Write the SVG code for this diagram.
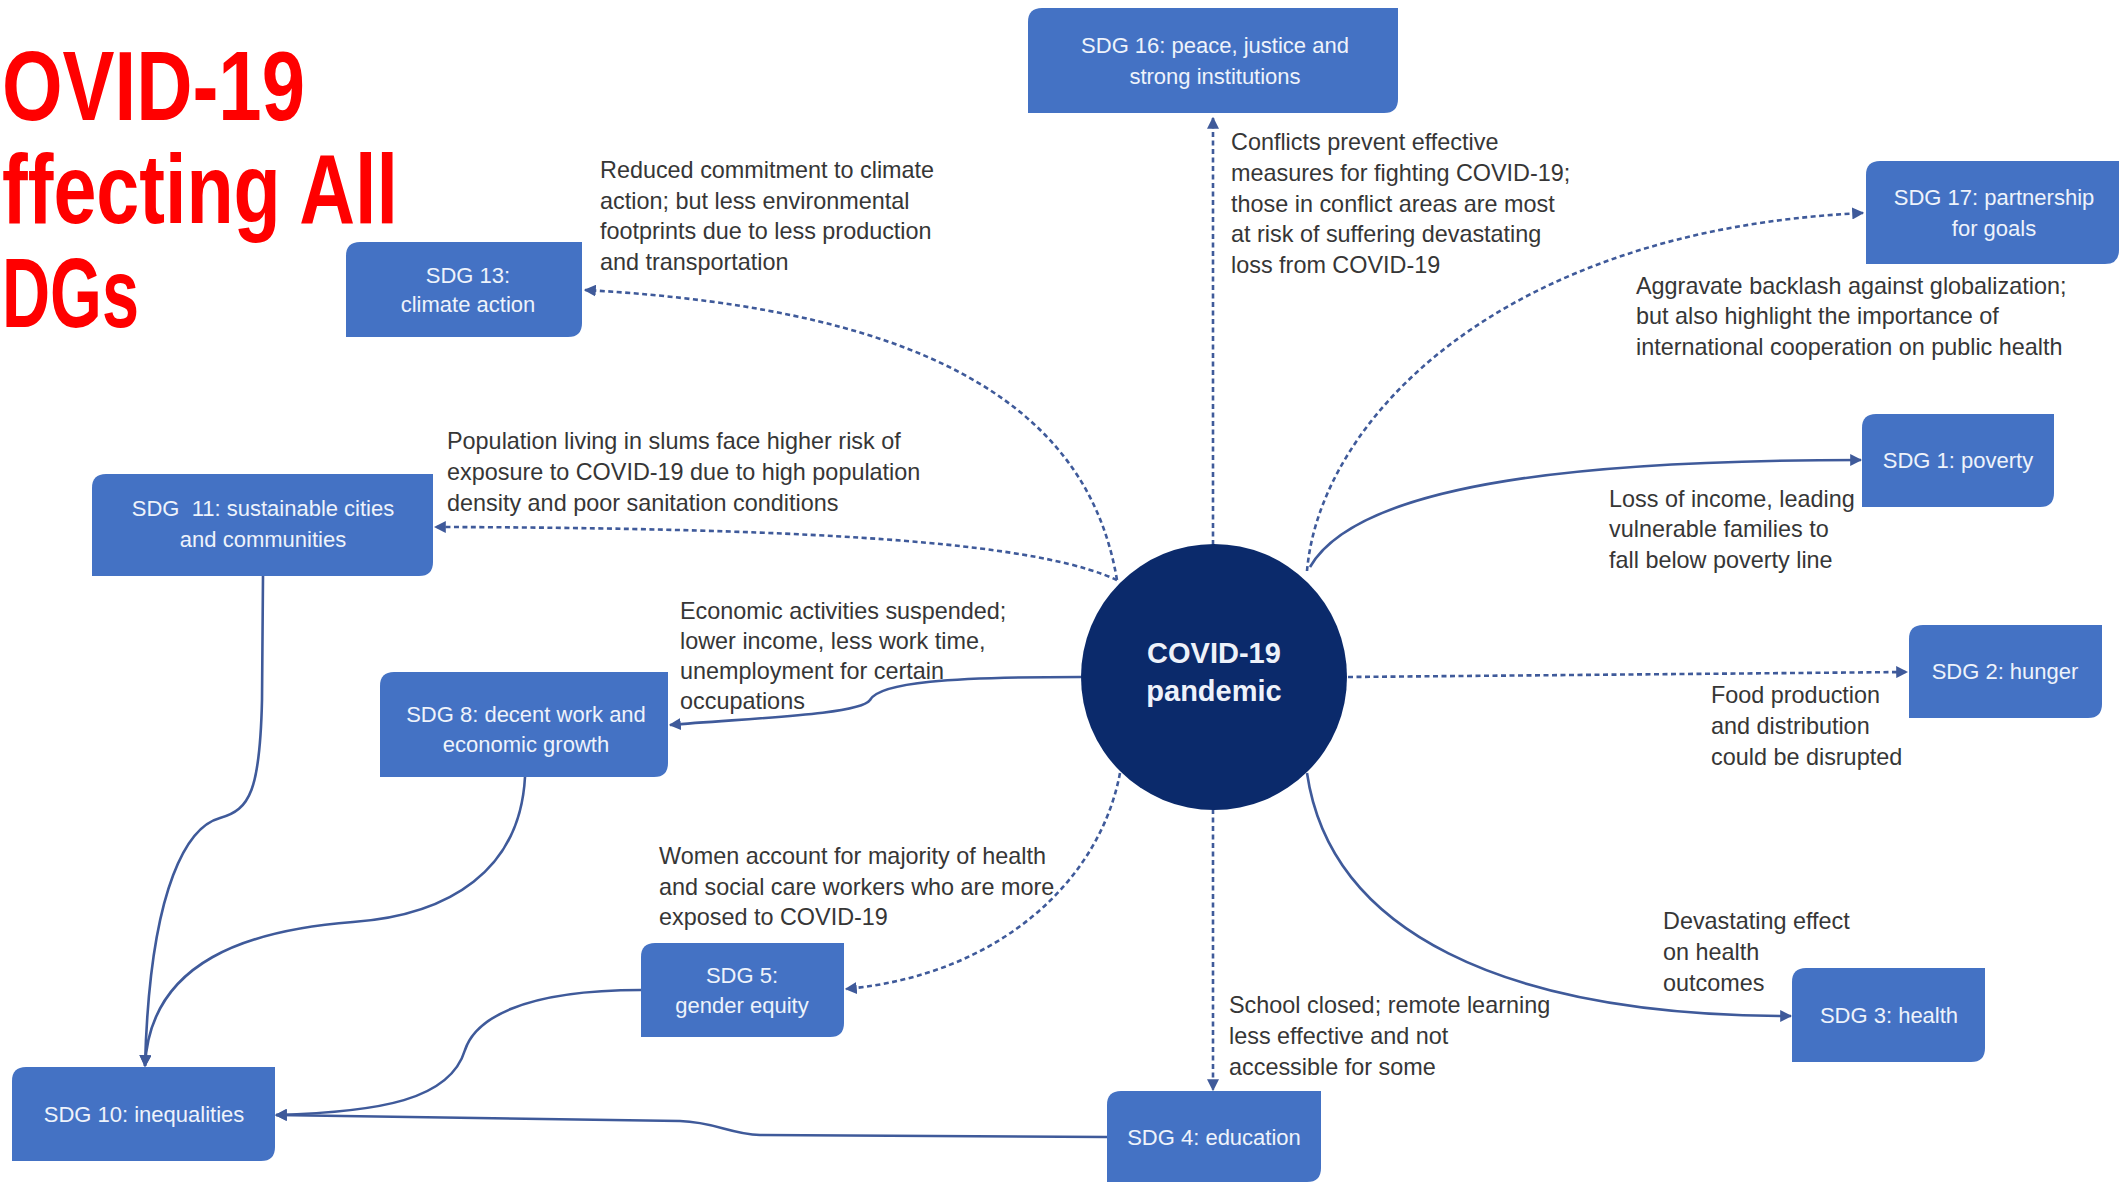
<svg xmlns="http://www.w3.org/2000/svg" width="2126" height="1185" viewBox="0 0 2126 1185">
<defs>
<style>
.title{font-family:"Liberation Sans",Arial,sans-serif;font-weight:bold;font-size:98px;fill:#ff0000}
.box{fill:#4472c4}
.nt{font-family:"Liberation Sans",Arial,sans-serif;font-size:22px;fill:#eef3fb;text-anchor:middle}
.lab{font-family:"Liberation Sans",Arial,sans-serif;font-size:23.4px;fill:#363636}
.ct{font-family:"Liberation Sans",Arial,sans-serif;font-weight:bold;font-size:29px;fill:#eef2fa;text-anchor:middle}
.ln{fill:none;stroke:#3f5a9a;stroke-width:2.6}
.dash{stroke-dasharray:5 3.5}
</style>
<marker id="ah" viewBox="0 0 10 10" refX="9" refY="5" markerWidth="12" markerHeight="12" markerUnits="userSpaceOnUse" orient="auto">
<path d="M0,0 L10,5 L0,10 z" fill="#3f5a9a"/>
</marker>
</defs>
<rect width="2126" height="1185" fill="#ffffff"/>

<g id="title">
<text class="title" x="2" y="120" textLength="303" lengthAdjust="spacingAndGlyphs">OVID-19</text>
<text class="title" x="2" y="223" textLength="396" lengthAdjust="spacingAndGlyphs">ffecting All</text>
<text class="title" x="2" y="327" textLength="137" lengthAdjust="spacingAndGlyphs">DGs</text>
</g>

<g id="connectors">
<path class="ln dash" d="M1213,545 L1213,118" marker-end="url(#ah)"/>
<path class="ln dash" d="M1307,571 C1320,420 1500,230 1863,213" marker-end="url(#ah)"/>
<path class="ln" d="M1310,567 C1360,480 1600,460 1861,460" marker-end="url(#ah)"/>
<path class="ln dash" d="M1348,677 L1907,672" marker-end="url(#ah)"/>
<path class="ln" d="M1307,773 C1330,930 1500,1016 1791,1016" marker-end="url(#ah)"/>
<path class="ln dash" d="M1213,809 L1213,1090" marker-end="url(#ah)"/>
<path class="ln dash" d="M1120,773 C1100,880 1000,975 846,989" marker-end="url(#ah)"/>
<path class="ln" d="M1081,677 C950,677 880,682 870,700 C860,715 750,718 670,725" marker-end="url(#ah)"/>
<path class="ln dash" d="M1117,580 C1050,550 900,528 435,527" marker-end="url(#ah)"/>
<path class="ln dash" d="M1117,580 C1090,420 950,310 585,290" marker-end="url(#ah)"/>
<path class="ln" d="M263,576 L262,700 C260,790 250,810 220,818 C190,826 150,880 145,1066" marker-end="url(#ah)"/>
<path class="ln" d="M525,777 C520,870 450,915 353,922 C250,930 150,960 145,1066" marker-end="url(#ah)"/>
<path class="ln" d="M641,990 C520,990 475,1020 465,1050 C450,1100 380,1112 276,1115" marker-end="url(#ah)"/>
<path class="ln" d="M1107,1137 L760,1135 C730,1134 715,1122 680,1121 L276,1115" marker-end="url(#ah)"/>
</g>

<g id="covid">
<circle cx="1214" cy="677" r="133" fill="#0b2a6b"/>
<text class="ct" x="1214" y="663">COVID-19</text>
<text class="ct" x="1214" y="701">pandemic</text>
</g>

<g id="sdg16">
<path class="box" d="M1042,8 H1398 V99 Q1398,113 1384,113 H1028 V22 Q1028,8 1042,8 Z"/>
<text class="nt" x="1215" y="53">SDG 16: peace, justice and</text>
<text class="nt" x="1215" y="84">strong institutions</text>
</g>

<g id="sdg17">
<path class="box" d="M1880,161 H2119 V250 Q2119,264 2105,264 H1866 V175 Q1866,161 1880,161 Z"/>
<text class="nt" x="1994" y="205">SDG 17: partnership</text>
<text class="nt" x="1994" y="236">for goals</text>
</g>

<g id="sdg13">
<path class="box" d="M360,242 H582 V323 Q582,337 568,337 H346 V256 Q346,242 360,242 Z"/>
<text class="nt" x="468" y="283">SDG 13:</text>
<text class="nt" x="468" y="312">climate action</text>
</g>

<g id="sdg11">
<path class="box" d="M106,474 H433 V562 Q433,576 419,576 H92 V488 Q92,474 106,474 Z"/>
<text class="nt" x="263" y="516" xml:space="preserve">SDG  11: sustainable cities</text>
<text class="nt" x="263" y="547">and communities</text>
</g>

<g id="sdg1">
<path class="box" d="M1876,414 H2054 V493 Q2054,507 2040,507 H1862 V428 Q1862,414 1876,414 Z"/>
<text class="nt" x="1958" y="468">SDG 1: poverty</text>
</g>

<g id="sdg2">
<path class="box" d="M1923,625 H2102 V704 Q2102,718 2088,718 H1909 V639 Q1909,625 1923,625 Z"/>
<text class="nt" x="2005" y="679">SDG 2: hunger</text>
</g>

<g id="sdg8">
<path class="box" d="M394,672 H668 V763 Q668,777 654,777 H380 V686 Q380,672 394,672 Z"/>
<text class="nt" x="526" y="722">SDG 8: decent work and</text>
<text class="nt" x="526" y="752">economic growth</text>
</g>

<g id="sdg5">
<path class="box" d="M655,943 H844 V1023 Q844,1037 830,1037 H641 V957 Q641,943 655,943 Z"/>
<text class="nt" x="742" y="983">SDG 5:</text>
<text class="nt" x="742" y="1013">gender equity</text>
</g>

<g id="sdg3">
<path class="box" d="M1806,968 H1985 V1048 Q1985,1062 1971,1062 H1792 V982 Q1792,968 1806,968 Z"/>
<text class="nt" x="1889" y="1023">SDG 3: health</text>
</g>

<g id="sdg10">
<path class="box" d="M26,1067 H275 V1147 Q275,1161 261,1161 H12 V1081 Q12,1067 26,1067 Z"/>
<text class="nt" x="144" y="1122">SDG 10: inequalities</text>
</g>

<g id="sdg4">
<path class="box" d="M1121,1091 H1321 V1168 Q1321,1182 1307,1182 H1107 V1105 Q1107,1091 1121,1091 Z"/>
<text class="nt" x="1214" y="1145">SDG 4: education</text>
</g>

<g id="labels">
<text class="lab" x="600" y="178">Reduced commitment to climate</text>
<text class="lab" x="600" y="209">action; but less environmental</text>
<text class="lab" x="600" y="239">footprints due to less production</text>
<text class="lab" x="600" y="270">and transportation</text>

<text class="lab" x="447" y="449">Population living in slums face higher risk of</text>
<text class="lab" x="447" y="480">exposure to COVID-19 due to high population</text>
<text class="lab" x="447" y="511">density and poor sanitation conditions</text>

<text class="lab" x="1231" y="150">Conflicts prevent effective</text>
<text class="lab" x="1231" y="181">measures for fighting COVID-19;</text>
<text class="lab" x="1231" y="212">those in conflict areas are most</text>
<text class="lab" x="1231" y="242">at risk of suffering devastating</text>
<text class="lab" x="1231" y="273">loss from COVID-19</text>

<text class="lab" x="1636" y="294">Aggravate backlash against globalization;</text>
<text class="lab" x="1636" y="324">but also highlight the importance of</text>
<text class="lab" x="1636" y="355">international cooperation on public health</text>

<text class="lab" x="1609" y="507">Loss of income, leading</text>
<text class="lab" x="1609" y="537">vulnerable families to</text>
<text class="lab" x="1609" y="568">fall below poverty line</text>

<text class="lab" x="680" y="619">Economic activities suspended;</text>
<text class="lab" x="680" y="649">lower income, less work time,</text>
<text class="lab" x="680" y="679">unemployment for certain</text>
<text class="lab" x="680" y="709">occupations</text>

<text class="lab" x="1711" y="703">Food production</text>
<text class="lab" x="1711" y="734">and distribution</text>
<text class="lab" x="1711" y="765">could be disrupted</text>

<text class="lab" x="659" y="864">Women account for majority of health</text>
<text class="lab" x="659" y="895">and social care workers who are more</text>
<text class="lab" x="659" y="925">exposed to COVID-19</text>

<text class="lab" x="1663" y="929">Devastating effect</text>
<text class="lab" x="1663" y="960">on health</text>
<text class="lab" x="1663" y="991">outcomes</text>

<text class="lab" x="1229" y="1013">School closed; remote learning</text>
<text class="lab" x="1229" y="1044">less effective and not</text>
<text class="lab" x="1229" y="1075">accessible for some</text>
</g>
</svg>
